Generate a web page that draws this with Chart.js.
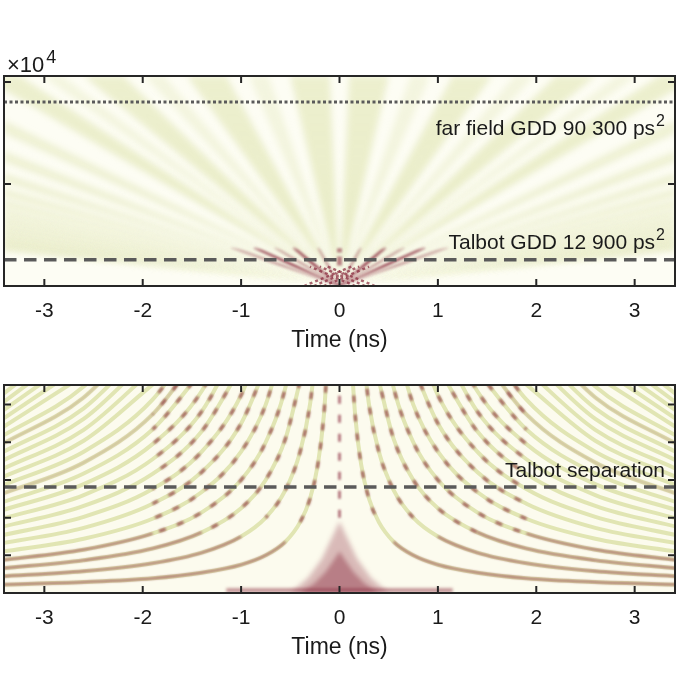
<!DOCTYPE html>
<html>
<head>
<meta charset="utf-8">
<script src="https://cdn.jsdelivr.net/npm/chart.js@4.4.0/dist/chart.umd.min.js"></script>
<style>
  html, body { margin: 0; padding: 0; background: #fff; }
  #wrap { width: 680px; height: 680px; position: relative; }
  .panel { position: absolute; left: 0; width: 680px; }
  #top { top: 0; height: 365px; }
  #bottom { top: 365px; height: 315px; }
</style>
</head>
<body>
<div id="wrap">
  <div class="panel" id="top"><canvas id="topChart" width="680" height="365"></canvas></div>
  <div class="panel" id="bottom"><canvas id="bottomChart" width="680" height="315"></canvas></div>
</div>
<script>
// Shared time axis (ns)
const timeTicks = [-3, -2, -1, 0, 1, 2, 3];
const timeMin = -3.41;
const timeMax = 3.41;

// Upper panel: GDD (ps^2)
const gddMax = 103000;
const gddTicks = [0, 50000, 100000];
const farFieldGdd = 90300;
const talbotGdd = 12900;
const bandTopT = [0.3, 1.35, 2.4, 3.45];      // broad far-field bands where they reach the top edge
const faintTopT = [0.82, 1.88, 2.92];
const bandEdgeGdd = [78000, 63500, 53200, 45900, 40400, 36000, 32500, 29600, 27200, 25100, 23300, 21800, 20400, 19200, 18100];
const redRayGdd = 19000;                      // red streaks: time reached at GDD 19 000
const redRayT = [0.47, 0.87];
const paleRedRayT = [0.22, 0.66, 1.1];
const crossT0 = [0.36, 0.26, 0.16];           // dotted lattice near the origin (t at GDD 0 ...)
const crossT1 = [-0.12, -0.2, -0.3];          // ... and at GDD 9 500
const crossGdd = 9500;
const centerSpotGdd = [10000, 18500];

// Lower panel: unlabelled axis
const sepMax = 5.52;
const sepTicks = [0, 1, 2, 3, 4, 5];
const talbotSep = 2.81;
const curveT = [-3.45, -2.6, -1.9, -1.4, -1.0, -0.75, -0.55, -0.4, -0.3, -0.22, -0.16, -0.12];
const curveU = [
  [0.22, 0.29, 0.39, 0.54, 0.75, 1.00, 1.36, 1.88, 2.50, 3.41, 4.69, 6.25],
  [0.44, 0.58, 0.79, 1.07, 1.50, 2.00, 2.73, 3.75, 5.00, 6.82],
  [0.65, 0.87, 1.18, 1.61, 2.25, 3.00, 4.09, 5.63],
  [0.87, 1.15, 1.58, 2.14, 3.00, 4.00, 5.45, 7.50],
  [1.09, 1.44, 1.97, 2.68, 3.75, 5.00, 6.82],
  [1.31, 1.73, 2.37, 3.21, 4.50, 6.00],
  [1.52, 2.02, 2.76, 3.75, 5.25, 7.00],
  [1.74, 2.31, 3.16, 4.29, 6.00],
  [1.96, 2.60, 3.55, 4.82, 6.75],
  [2.18, 2.89, 3.95, 5.36, 7.50],
  [2.39, 3.17, 4.34, 5.89],
  [2.61, 3.46, 4.74, 6.43],
  [2.83, 3.75, 5.13, 6.96],
  [3.05, 4.04, 5.53],
  [3.26, 4.33, 5.92],
  [3.48, 4.62, 6.32],
  [3.70, 4.90, 6.71],
  [3.92, 5.19, 7.11],
  [4.13, 5.48, 7.50],
  [4.35, 5.77],
  [4.57, 6.06],
  [4.79, 6.35],
  [5.00, 6.64],
  [5.22, 6.93],
  [5.44, 7.22]
];
const strongCurves = [0, 1, 2, 3];
const mediumCurves = [11, 17];
const fountainT = [-0.5, -0.32, -0.18, -0.08, 0, 0.08, 0.18, 0.32, 0.5];
const fountainU = [0, 0.4, 0.9, 1.45, 1.9, 1.45, 0.9, 0.4, 0];
const coreU = [0, 0.25, 0.55, 0.85, 1.1, 0.85, 0.55, 0.25, 0];
const floorT = [-1.15, 1.15];
const floorU = 0.07;
const centerStreakU = [2.0, 5.6];

// Texts
const xTitle = "Time (ns)";
const farFieldText = "far field GDD 90 300 ps";
const talbotText = "Talbot GDD 12 900 ps";
const separationText = "Talbot separation";

const FONT = '"Liberation Sans", Arial, Helvetica, sans-serif';
const red = (a) => `rgba(136, 38, 58, ${a})`;
const green = (a) => `rgba(218, 224, 164, ${a})`;
const clear = "rgba(0,0,0,0)";

function line(points, opts) {
  return Object.assign({
    data: points, showLine: true, pointRadius: 0, pointHoverRadius: 0,
    borderWidth: 1.5, fill: false, clip: 0, tension: 0
  }, opts);
}

// vertical gradient in fractions of the chart area height
function vGrad(chart, stops) {
  const a = chart.chartArea;
  if (!a) return clear;
  const g = chart.ctx.createLinearGradient(0, a.bottom, 0, a.top);
  stops.forEach(([f, c]) => g.addColorStop(f, c));
  return g;
}

function wedge(points, alpha) {
  return line(points, {
    fill: "shape", borderWidth: 0, borderColor: clear, order: 3, blur: 3,
    backgroundColor: (c) => vGrad(c.chart, [[0, green(0)], [0.04, green(alpha * 0.5)], [0.15, green(alpha)], [1, green(alpha * 0.85)]])
  });
}

function redRay(t, alpha) {
  return line([{ x: 0, y: 0 }, { x: t, y: redRayGdd }], {
    borderWidth: 3, order: 1, blur: 1.2,
    borderColor: (c) => vGrad(c.chart, [[0, red(alpha * 0.3)], [0.05, red(alpha * 0.6)], [0.1, red(alpha)], [0.17, red(alpha * 0.8)], [0.19, red(0)], [1, red(0)]])
  });
}

// Upper panel datasets
const topSets = [];
topSets.push(line([{ x: timeMin, y: farFieldGdd }, { x: timeMax, y: farFieldGdd }],
  { borderColor: "#5a5a5a", borderWidth: 3, borderDash: [3, 2.5], order: 0 }));
topSets.push(line([{ x: timeMin, y: talbotGdd }, { x: timeMax, y: talbotGdd }],
  { borderColor: "#5a5a5a", borderWidth: 3.5, borderDash: [12.5, 7.5], order: 0 }));

[-1, 1].forEach((side) => {
  bandTopT.forEach((t) => topSets.push(wedge(
    [{ x: 0, y: 0 }, { x: side * (t - 0.2), y: gddMax }, { x: side * (t + 0.2), y: gddMax }], 0.55)));
  faintTopT.forEach((t) => topSets.push(wedge(
    [{ x: 0, y: 0 }, { x: side * (t - 0.1), y: gddMax }, { x: side * (t + 0.1), y: gddMax }], 0.3)));
  bandEdgeGdd.forEach((g) => topSets.push(wedge(
    [{ x: 0, y: 0 }, { x: side * timeMax, y: g * 0.96 }, { x: side * timeMax, y: g * 1.04 }], 0.45)));
  redRayT.forEach((t) => topSets.push(redRay(side * t, 0.75)));
  paleRedRayT.forEach((t) => topSets.push(redRay(side * t, 0.35)));
  crossT0.forEach((t0, i) => topSets.push(line(
    [{ x: side * t0, y: 0 }, { x: side * crossT1[i], y: crossGdd }],
    { borderColor: red(0.7), borderWidth: 2.4, borderDash: [3, 3], order: 1, blur: 0.5 })));
});
topSets.push(line([{ x: 0, y: centerSpotGdd[0] }, { x: 0, y: centerSpotGdd[1] }],
  { borderColor: red(0.55), borderWidth: 5, borderDash: [9, 4], order: 1, blur: 1.2 }));

// Lower panel datasets
function latticeColor(c) {
  const x = Math.min(Math.abs(c.p0.parsed.x), Math.abs(c.p1.parsed.x));
  const y = Math.max(c.p0.parsed.y, c.p1.parsed.y);
  return (x < 1.8 && y > 2.0) ? red(0.68) : clear;
}
function strongColor(c) {
  const x = Math.min(Math.abs(c.p0.parsed.x), Math.abs(c.p1.parsed.x));
  const y = Math.max(c.p0.parsed.y, c.p1.parsed.y);
  if (y > 1.7 || x < 0.45) return clear;
  return x > 2.8 ? red(0.35) : red(0.6);
}

const botSets = [];
botSets.push(line([{ x: timeMin, y: talbotSep }, { x: timeMax, y: talbotSep }],
  { borderColor: "#5a5a5a", borderWidth: 3.5, borderDash: [12.5, 7.5], order: 0 }));

curveU.forEach((us, i) => {
  const left = us.map((u, j) => ({ x: curveT[j], y: u }));
  const right = left.map((p) => ({ x: -p.x, y: p.y })).reverse();
  [left, right].forEach((pts) => {
    botSets.push(line(pts, { borderColor: green(0.8), borderWidth: 4, cubicInterpolationMode: "monotone", order: 4, blur: 0.7 }));
    botSets.push(line(pts, {
      borderColor: clear, borderWidth: 3, borderDash: [7, 12], borderDashOffset: i * 4,
      cubicInterpolationMode: "monotone", order: 1, blur: 0.8,
      segment: { borderColor: latticeColor }
    }));
    if (strongCurves.includes(i)) {
      botSets.push(line(pts, {
        borderColor: red(0.5), borderWidth: 2.2, cubicInterpolationMode: "monotone", order: 1, blur: 0.8,
        segment: { borderColor: strongColor }
      }));
    }
    if (mediumCurves.includes(i)) {
      botSets.push(line(pts, { borderColor: red(0.22), borderWidth: 2, cubicInterpolationMode: "monotone", order: 1, blur: 0.8 }));
    }
  });
});

botSets.push(line(fountainT.map((t, j) => ({ x: t, y: fountainU[j] })),
  { fill: "shape", backgroundColor: red(0.3), borderWidth: 0, borderColor: clear, order: 2, blur: 2.5 }));
botSets.push(line(fountainT.map((t, j) => ({ x: t * 0.8, y: coreU[j] })),
  { fill: "shape", backgroundColor: red(0.4), borderWidth: 0, borderColor: clear, order: 2, blur: 2 }));
botSets.push(line([{ x: floorT[0], y: floorU }, { x: floorT[1], y: floorU }],
  { borderColor: red(0.5), borderWidth: 4, order: 2, blur: 1.5 }));
botSets.push(line([{ x: 0, y: centerStreakU[0] }, { x: 0, y: centerStreakU[1] }],
  { borderColor: red(0.6), borderWidth: 3, borderDash: [8, 11], order: 1, blur: 0.8 }));

// Frame, inward ticks, labels and annotations
function drawNote(ctx, text, sup, right, cy) {
  ctx.textAlign = "right";
  ctx.textBaseline = "alphabetic";
  const base = cy + 7.5;
  let end = right;
  if (sup) {
    ctx.font = "16px " + FONT;
    ctx.fillText(sup, right, base - 9);
    end = right - ctx.measureText(sup).width - 1;
  }
  ctx.font = "21px " + FONT;
  ctx.fillText(text, end, base);
}

function filterOf(chart, meta) {
  const b = chart.data.datasets[meta.index].blur;
  return b ? `blur(${b}px)` : "none";
}

const framePlugin = {
  id: "frame",
  beforeDatasetsDraw(chart, args, opts) {
    const { ctx, chartArea: a } = chart;
    ctx.save();
    ctx.filter = "none";
    ctx.fillStyle = opts.background;
    ctx.fillRect(a.left, a.top, a.width, a.height);
    ctx.restore();
    // soften the intensity map: filter for the first dataset to be drawn
    const metas = chart.getSortedVisibleDatasetMetas();
    ctx.filter = metas.length ? filterOf(chart, metas[metas.length - 1]) : "none";
  },
  afterDatasetDraw(chart, args) {
    const metas = chart.getSortedVisibleDatasetMetas();
    const pos = metas.indexOf(args.meta);
    chart.ctx.filter = pos > 0 ? filterOf(chart, metas[pos - 1]) : "none";
  },
  afterDatasetsDraw(chart) {
    chart.ctx.filter = "none";
  },
  afterDraw(chart, args, opts) {
    const { ctx, chartArea: a, scales: { x, y } } = chart;
    ctx.save();
    ctx.filter = "none";
    ctx.strokeStyle = "#262626";
    ctx.lineWidth = 2;
    ctx.beginPath();
    timeTicks.forEach((v) => {
      const px = x.getPixelForValue(v);
      ctx.moveTo(px, a.bottom); ctx.lineTo(px, a.bottom - 7);
      ctx.moveTo(px, a.top); ctx.lineTo(px, a.top + 7);
    });
    opts.yTicks.forEach((v) => {
      const py = y.getPixelForValue(v);
      ctx.moveTo(a.left, py); ctx.lineTo(a.left + 7, py);
      ctx.moveTo(a.right, py); ctx.lineTo(a.right - 7, py);
    });
    ctx.stroke();
    ctx.strokeRect(a.left, a.top, a.width, a.height);

    ctx.fillStyle = "#1a1a1a";
    ctx.textAlign = "center";
    ctx.textBaseline = "middle";
    ctx.font = "21px " + FONT;
    timeTicks.forEach((v) => ctx.fillText(String(v), x.getPixelForValue(v), a.bottom + 25));
    ctx.font = "23px " + FONT;
    ctx.fillText(xTitle, (a.left + a.right) / 2, a.bottom + 55);

    opts.notes.forEach((n) => drawNote(ctx, n.text, n.sup, a.right - n.inset, y.getPixelForValue(n.at) + n.dy));

    if (opts.exponent) {
      ctx.textAlign = "left";
      ctx.textBaseline = "alphabetic";
      ctx.font = "22px " + FONT;
      ctx.fillText("\u00d710", a.left + 3, a.top - 4);
      const w = ctx.measureText("\u00d710").width;
      ctx.font = "18px " + FONT;
      ctx.fillText("4", a.left + 3 + w + 2, a.top - 13);
    }
    ctx.restore();
  }
};

function makeChart(id, datasets, yMax, padding, frameOpts) {
  return new Chart(document.getElementById(id), {
    type: "scatter",
    data: { datasets },
    options: {
      responsive: false,
      animation: false,
      layout: { padding },
      events: [],
      scales: {
        x: { type: "linear", min: timeMin, max: timeMax, display: false },
        y: { type: "linear", min: 0, max: yMax, display: false }
      },
      plugins: { legend: { display: false }, tooltip: { enabled: false }, frame: frameOpts }
    },
    plugins: [framePlugin]
  });
}

makeChart("topChart", topSets, gddMax, { left: 4, right: 5, top: 76, bottom: 79 }, {
  background: "#fdfdf4",
  yTicks: gddTicks,
  exponent: true,
  notes: [
    { text: farFieldText, sup: "2", at: farFieldGdd, dy: 26, inset: 10 },
    { text: talbotText, sup: "2", at: talbotGdd, dy: -18, inset: 10 }
  ]
});

makeChart("bottomChart", botSets, sepMax, { left: 4, right: 5, top: 20, bottom: 87 }, {
  background: "#fcfbee",
  yTicks: sepTicks,
  exponent: false,
  notes: [
    { text: separationText, sup: null, at: talbotSep, dy: -18, inset: 10 }
  ]
});
</script>
</body>
</html>
